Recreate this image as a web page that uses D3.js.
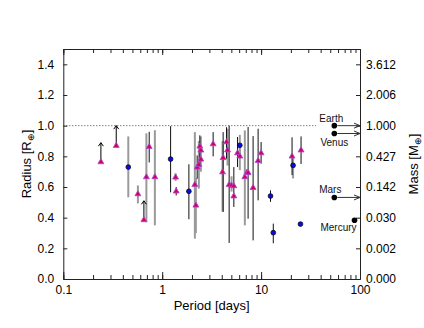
<!DOCTYPE html>
<html>
<head>
<meta charset="utf-8">
<script src="https://cdn.jsdelivr.net/npm/d3@7"></script>
<style>
body { margin: 0; background: #fff; }
text { font-family: "Liberation Sans", Arial, sans-serif; }
</style>
</head>
<body>
<script>
// planets found around small stars : period (days) vs radius (earth radii)
var triPeriod = [0.240, 0.343, 0.568, 0.653, 0.692, 0.739, 0.843, 1.366, 1.385, 2.139, 2.19, 2.257, 2.348, 2.403, 2.46, 2.46,
                 3.275, 4.075, 4.133, 4.473, 4.578, 4.752, 5.023, 5.30, 5.30, 5.777, 6.093, 6.846, 7.17, 7.39, 8.30, 9.33, 10.0, 20.56, 25.35];
var triRadius = [0.763, 0.869, 0.554, 0.385, 0.665, 0.862, 0.665, 0.663, 0.572, 0.615, 0.48, 0.728, 0.745, 0.865, 0.839, 0.78,
                 0.88, 0.697, 0.79, 0.893, 0.84, 0.615, 0.61, 0.606, 0.54, 0.821, 0.80, 0.665, 0.693, 0.693, 0.595, 0.771, 0.821, 0.80, 0.84];

var circPeriod = [0.454, 1.216, 1.861, 6.093, 12.45, 13.28, 21.05, 25.0];
var circRadius = [0.73, 0.782, 0.572, 0.872, 0.541, 0.302, 0.741, 0.358];

// error bars, two sources
var blackErrPeriod = [0.739, 1.385, 2.257, 2.403, 3.275, 4.133, 4.473, 4.752, 5.30, 5.777, 7.39, 8.30, 9.33, 10.0, 20.56, 25.35, 1.216, 1.861, 12.45, 13.28];
var blackErrLo     = [0.76, 0.545, 0.654, 0.75, 0.80, 0.437, 0.785, 0.235, 0.47, 0.73, 0.393, 0.252, 0.513, 0.752, 0.678, 0.75, 0.565, 0.39, 0.503, 0.233];
var blackErrHi     = [0.96, 0.60, 0.806, 0.937, 0.958, 0.958, 0.99, 1.0, 0.73, 0.926, 0.991, 0.932, 0.98, 0.893, 0.924, 0.93, 0.997, 0.748, 0.578, 0.361];

var grayErrPeriod = [0.454, 0.568, 0.692, 0.843, 1.366, 2.139, 2.19, 2.348, 2.46, 4.075, 4.578, 5.023, 6.093, 6.093, 6.846, 21.05];
var grayErrLo     = [0.533, 0.493, 0.37, 0.35, 0.64, 0.263, 0.30, 0.59, 0.70, 0.44, 0.74, 0.57, 0.784, 0.71, 0.35, 0.656];
var grayErrHi     = [0.93, 0.61, 0.95, 0.97, 0.69, 0.958, 0.66, 0.90, 0.93, 0.90, 0.98, 0.67, 0.94, 0.86, 0.969, 0.797];

// lower limits
var limPeriod = [0.240, 0.343, 0.653];
var limFrom   = [0.763, 0.869, 0.385];
var limTo     = [0.889, 1.0, 0.51];

// solar system
var planetNames  = ["Earth", "Venus", "Mars", "Mercury"];
var planetPeriod = [365.25, 224.7, 687.0, 88.0];
var planetRadius = [1.0, 0.949, 0.532, 0.383];

var radiusTicks = [0, 0.2, 0.4, 0.6, 0.8, 1.0, 1.2, 1.4];
var massLabels = ["0.000", "0.002", "0.030", "0.142", "0.427", "1.000", "2.006", "3.612"];
var periodTicks = [0.1, 1, 10, 100];
var periodLabels = ["0.1", "1", "10", "100"];

var W = 424, H = 328;
var L = 63.3, R = 360, T = 49, B = 279;
var offScaleP = 55; // where planets beyond 100 days are drawn
var labelPos = { Earth: [-3, -4], Venus: [0, 13], Mars: [-4, -4], Mercury: [-16, 11] };

var svg = d3.select("body").append("svg").attr("width", W).attr("height", H);

var x = d3.scaleLog().domain([0.1, 100]).range([L, R]);
var y = d3.scaleLinear().domain([0, 1.5]).range([B, T]);

function styleAxis(g) {
    g.selectAll("path, line").attr("stroke", "#222");
    g.attr("font-size", 12).attr("font-family", "Liberation Sans, Arial, sans-serif");
}

// bottom axis
svg.append("g").attr("transform", "translate(0," + B + ")")
    .call(d3.axisBottom(x).tickValues(x.ticks()).tickSize(-4).tickSizeOuter(0).tickFormat(""))
    .call(styleAxis);
svg.append("g").attr("transform", "translate(0," + B + ")")
    .call(d3.axisBottom(x).tickValues(periodTicks).tickSize(-7).tickSizeOuter(0).tickPadding(6)
        .tickFormat(function(d, i) { return periodLabels[i]; }))
    .call(styleAxis);
// top axis
svg.append("g").attr("transform", "translate(0," + T + ")")
    .call(d3.axisTop(x).tickValues(x.ticks()).tickSize(-4).tickSizeOuter(0).tickFormat(""))
    .call(styleAxis);
svg.append("g").attr("transform", "translate(0," + T + ")")
    .call(d3.axisTop(x).tickValues(periodTicks).tickSize(-6).tickSizeOuter(0).tickFormat(""))
    .call(styleAxis);
// left axis radius
svg.append("g").attr("transform", "translate(" + L + ",0)")
    .call(d3.axisLeft(y).tickValues(radiusTicks).tickSize(-4).tickSizeOuter(0).tickPadding(9)
        .tickFormat(d3.format(".1f")))
    .call(styleAxis);
// right axis mass
svg.append("g").attr("transform", "translate(" + R + ",0)")
    .call(d3.axisRight(y).tickValues(radiusTicks).tickSize(-4).tickSizeOuter(0).tickPadding(6)
        .tickFormat(function(d, i) { return massLabels[i]; }))
    .call(styleAxis);

// axis titles
svg.append("text").attr("x", (L + R) / 2).attr("y", 310).attr("text-anchor", "middle")
    .attr("font-size", 13).text("Period [days]");

var ylab = svg.append("text").attr("transform", "translate(31," + (T + B) / 2 + ") rotate(-90)")
    .attr("text-anchor", "middle").attr("font-size", 13);
ylab.append("tspan").text("Radius [R");
ylab.append("tspan").attr("font-size", 9).attr("dy", 3).text("\u2295");
ylab.append("tspan").attr("dy", -3).text("]");

var mlab = svg.append("text").attr("transform", "translate(418," + (T + B) / 2 + ") rotate(-90)")
    .attr("text-anchor", "middle").attr("font-size", 13);
mlab.append("tspan").text("Mass [M");
mlab.append("tspan").attr("font-size", 9).attr("dy", 3).text("\u2295");
mlab.append("tspan").attr("dy", -3).text("]");

// earth radius line
svg.append("line").attr("x1", x(0.1)).attr("x2", x(36)).attr("y1", y(1)).attr("y2", y(1))
    .attr("stroke", "#444").attr("stroke-width", 1).attr("stroke-dasharray", "1,2");

// error bars
svg.append("g").selectAll("line").data(grayErrPeriod).enter().append("line")
    .attr("x1", function(d) { return x(d); }).attr("x2", function(d) { return x(d); })
    .attr("y1", function(d, i) { return y(grayErrLo[i]); }).attr("y2", function(d, i) { return y(grayErrHi[i]); })
    .attr("stroke", "#9a9a9a").attr("stroke-width", 2);
svg.append("g").selectAll("line").data(blackErrPeriod).enter().append("line")
    .attr("x1", function(d) { return x(d); }).attr("x2", function(d) { return x(d); })
    .attr("y1", function(d, i) { return y(blackErrLo[i]); }).attr("y2", function(d, i) { return y(blackErrHi[i]); })
    .attr("stroke", "#111").attr("stroke-width", 1);

// lower limit arrows
var lim = svg.append("g").selectAll("g").data(limPeriod).enter().append("g");
lim.append("line")
    .attr("x1", function(d) { return x(d); }).attr("x2", function(d) { return x(d); })
    .attr("y1", function(d, i) { return y(limFrom[i]); }).attr("y2", function(d, i) { return y(limTo[i]); })
    .attr("stroke", "#000").attr("stroke-width", 1);
lim.append("path")
    .attr("d", function(d, i) {
        var px = x(d), py = y(limTo[i]);
        return "M" + (px - 2.5) + "," + (py + 3.5) + "L" + px + "," + py + "L" + (px + 2.5) + "," + (py + 3.5);
    })
    .attr("fill", "none").attr("stroke", "#000").attr("stroke-width", 1);

// markers
svg.append("g").selectAll("path").data(triPeriod).enter().append("path")
    .attr("d", d3.symbol().type(d3.symbolTriangle).size(15))
    .attr("transform", function(d, i) { return "translate(" + x(d) + "," + y(triRadius[i]) + ")"; })
    .attr("fill", "#d0005c").attr("stroke", "#b048d0").attr("stroke-width", 0.9);

svg.append("g").selectAll("circle").data(circPeriod).enter().append("circle")
    .attr("cx", function(d) { return x(d); }).attr("cy", function(d, i) { return y(circRadius[i]); })
    .attr("r", 2.4).attr("fill", "#0a0ae6").attr("stroke", "#000").attr("stroke-width", 0.7);

// solar system planets
var pl = svg.append("g").selectAll("g").data(planetNames).enter().append("g");
function plX(i) { return x(planetPeriod[i] > 100 ? offScaleP : planetPeriod[i]); }
pl.append("circle")
    .attr("cx", function(d, i) { return plX(i); }).attr("cy", function(d, i) { return y(planetRadius[i]); })
    .attr("r", 2.8).attr("fill", "#000");
pl.filter(function(d, i) { return planetPeriod[i] > 100; }).each(function(d) {
    var i = planetNames.indexOf(d);
    var py = y(planetRadius[i]), x0 = plX(i) + 3, x1 = x(100);
    d3.select(this).append("line").attr("x1", x0).attr("x2", x1).attr("y1", py).attr("y2", py)
        .attr("stroke", "#333").attr("stroke-width", 1);
    d3.select(this).append("path")
        .attr("d", "M" + (x1 - 6) + "," + (py - 2.5) + "L" + x1 + "," + py + "L" + (x1 - 6) + "," + (py + 2.5))
        .attr("fill", "none").attr("stroke", "#333").attr("stroke-width", 1);
});
pl.append("text")
    .attr("x", function(d, i) { return plX(i) + labelPos[d][0]; })
    .attr("y", function(d, i) { return y(planetRadius[i]) + labelPos[d][1]; })
    .attr("text-anchor", "middle").attr("font-size", 10).attr("fill", "#111")
    .text(function(d) { return d; });
</script>
</body>
</html>
